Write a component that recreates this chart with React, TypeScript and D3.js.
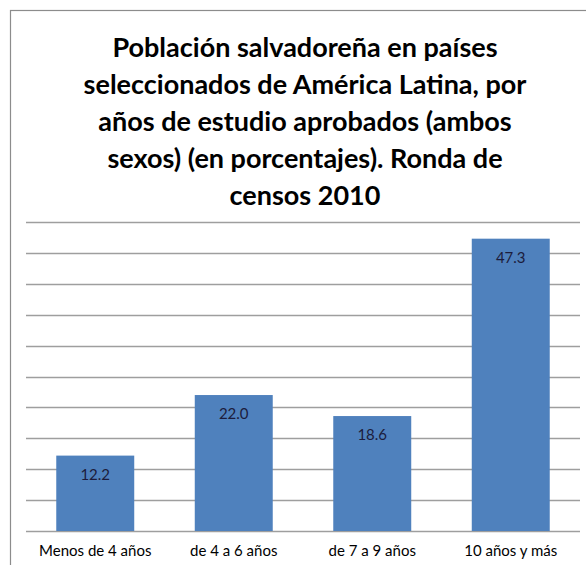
import React from "react";
import * as d3 from "d3";

const titleLines = [
  "Población salvadoreña en países",
  "seleccionados de América Latina, por",
  "años de estudio aprobados (ambos",
  "sexos) (en porcentajes). Ronda de",
  "censos 2010",
];
const categories = ["Menos de 4 años", "de 4 a 6 años", "de 7 a 9 años", "10 años y más"];
const values = [12.2, 22.0, 18.6, 47.3];
const yTicks = [0, 5, 10, 15, 20, 25, 30, 35, 40, 45, 50];

const W = 586;
const H = 565;
const FONT = "Lato, 'Open Sans', sans-serif";

export default function App() {
  const x = d3.scaleBand<string>().domain(categories).range([26, 580]).paddingInner(0.437).paddingOuter(0.2185);
  const y = d3.scaleLinear().domain([0, 50]).range([531, 222]);
  return (
    <svg width={W} height={H} style={{ position: "absolute", left: 0, top: 0, background: "#fff" }}>
      <rect x={10.5} y={10.5} width={700} height={700} fill="#fff" stroke="#8c8c8c" strokeWidth={1.2} />
      {titleLines.map((t, i) => (
        <text key={i} x={305} y={57 + i * 37} textAnchor="middle" fontFamily={FONT} fontWeight="bold" fontSize={27} fill="#000">
          {t}
        </text>
      ))}
      {yTicks.map((t) => (
        <line key={t} x1={26} x2={580} y1={Math.round(y(t)) + 0.5} y2={Math.round(y(t)) + 0.5} stroke="#9e9e9e" strokeWidth={1.3} />
      ))}
      {categories.map((c, i) => (
        <g key={c}>
          <rect x={x(c)} y={y(values[i])} width={x.bandwidth()} height={y(0) - y(values[i])} fill="#4f81bd" />
          <text x={(x(c) as number) + x.bandwidth() / 2} y={y(values[i]) + 24} textAnchor="middle" fontFamily={FONT} fontSize={15} fill="#1c1c3c">
            {values[i].toFixed(1)}
          </text>
          <text x={(x(c) as number) + x.bandwidth() / 2} y={556} textAnchor="middle" fontFamily={FONT} fontSize={15} fill="#000">
            {c}
          </text>
        </g>
      ))}
    </svg>
  );
}
